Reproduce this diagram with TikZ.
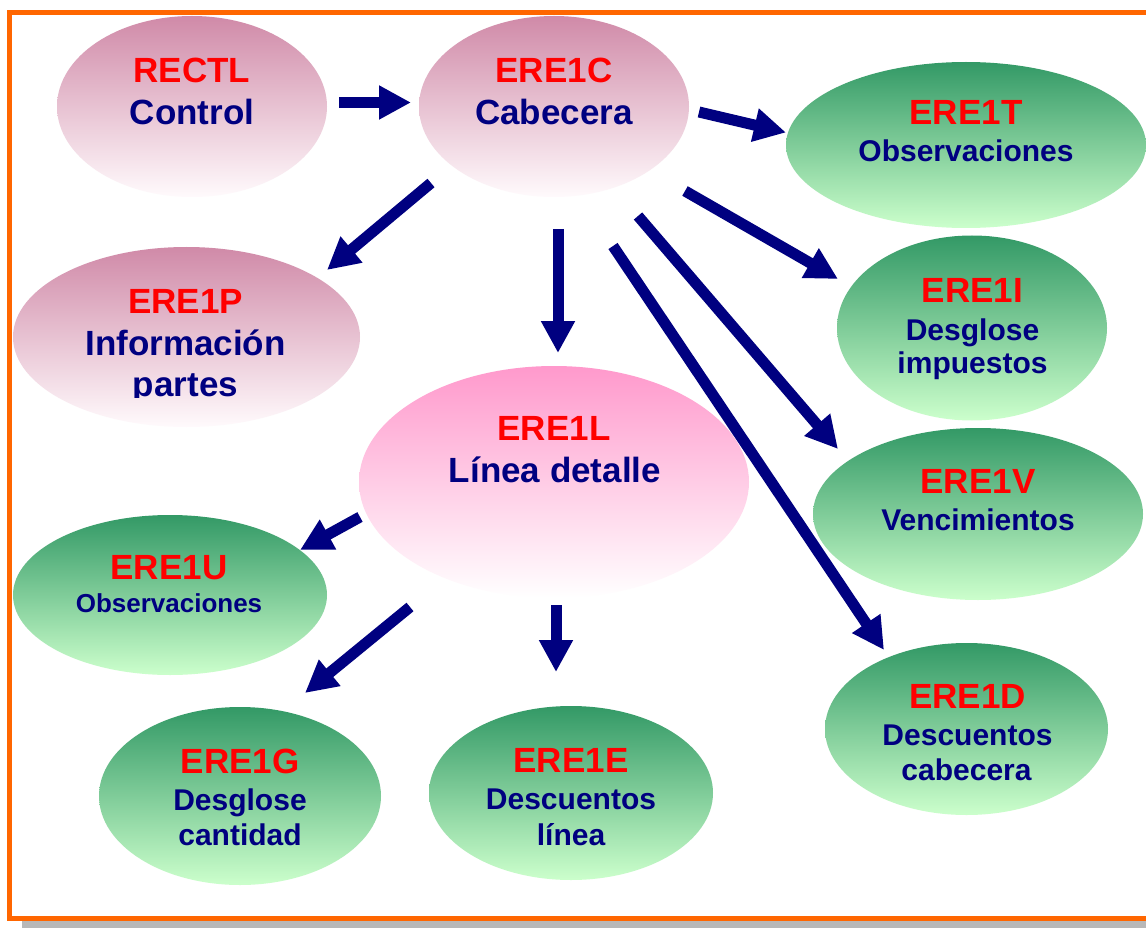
\documentclass[tikz,border=0pt]{standalone}
\usepackage{fontspec}
\setmainfont{Liberation Sans}
\usetikzlibrary{shapes.geometric,arrows.meta}
\definecolor{frameorange}{HTML}{FF6600}
\definecolor{shadowgray}{HTML}{B8B8B8}
\definecolor{pinktop}{HTML}{D08AA8}
\definecolor{pinkbot}{HTML}{FFFAFC}
\definecolor{rosetop}{HTML}{FF99CC}
\definecolor{rosebot}{HTML}{FFFFFF}
\definecolor{greentop}{HTML}{339966}
\definecolor{greenbot}{HTML}{CCFFCC}
\definecolor{titlered}{HTML}{FF0000}
\definecolor{navyblue}{HTML}{000080}
\begin{document}
\begin{tikzpicture}[x=1pt,y=-1pt,
  pinkell/.style={ellipse, draw=none, inner sep=0pt, top color=pinktop, bottom color=pinkbot},
  roseell/.style={ellipse, draw=none, inner sep=0pt, top color=rosetop, bottom color=rosebot},
  greenell/.style={ellipse, draw=none, inner sep=0pt, top color=greentop, bottom color=greenbot},
  ttl/.style={anchor=base, inner sep=0pt, text=titlered, font=\fontsize{35}{42}\selectfont\bfseries},
  lbig/.style={anchor=base, inner sep=0pt, text=navyblue, font=\fontsize{35}{42}\selectfont\bfseries},
  lmid/.style={anchor=base, inner sep=0pt, text=navyblue, font=\fontsize{30}{36}\selectfont\bfseries},
  lsmall/.style={anchor=base, inner sep=0pt, text=navyblue, font=\fontsize{26}{31}\selectfont\bfseries},
  blk/.style={draw=navyblue, line width=11pt, -{Triangle[width=32pt,length=32pt]}}
]
\useasboundingbox (0,0) rectangle (1146,928);
\clip (0,0) rectangle (1146,928);
% frame with shadow
\fill[shadowgray] (22,25) rectangle (1170,935);
\draw[frameorange, line width=5pt, fill=white] (9.5,12.5) rectangle (1160,918.5);

% ellipses
\node[pinkell, minimum width=270pt, minimum height=181pt] (rectl) at (192,106.5) {};
\node[pinkell, minimum width=270pt, minimum height=181pt] (ere1c) at (554,106.5) {};
\node[greenell, minimum width=360pt, minimum height=166pt] (ere1t) at (966,145) {};
\node[pinkell, minimum width=347pt, minimum height=180pt] (ere1p) at (186.5,337) {};
\node[greenell, minimum width=270pt, minimum height=185pt] (ere1i) at (972,328) {};
\node[roseell, minimum width=390pt, minimum height=232pt] (ere1l) at (554,482) {};
\node[greenell, minimum width=330pt, minimum height=172pt] (ere1v) at (978,514) {};
\node[greenell, minimum width=314pt, minimum height=160pt] (ere1u) at (170,595) {};
\node[greenell, minimum width=282pt, minimum height=178pt] (ere1g) at (240,796) {};
\node[greenell, minimum width=284pt, minimum height=174pt] (ere1e) at (571,793) {};
\node[greenell, minimum width=283pt, minimum height=172pt] (ere1d) at (966.5,729) {};

% texts
\node[ttl] (rectl-a) at (192,83) {RECTL};
\node[lbig] (rectl-b) at (192,125) {Control};
\node[ttl] (ere1c-a) at (554,83) {ERE1C};
\node[lbig] (ere1c-b) at (554,125) {Cabecera};
\node[ttl] (ere1t-a) at (966,125) {ERE1T};
\node[lmid] (ere1t-b) at (966,162) {Observaciones};
\node[ttl] (ere1p-a) at (185.5,313) {ERE1P};
\node[lbig] (ere1p-b) at (185.5,355) {Información};
\begin{scope}
  \clip (0,0) rectangle (1146,397.5);
  \node[lbig] (ere1p-c) at (185.5,396) {partes};
\end{scope}
\node[ttl] (ere1i-a) at (972.5,302) {ERE1I};
\node[lmid] (ere1i-b) at (972.5,340) {Desglose};
\node[lmid] (ere1i-c) at (972.5,373) {impuestos};
\node[ttl] (ere1l-a) at (554,440) {ERE1L};
\node[lbig] (ere1l-b) at (555,482) {Línea detalle};
\node[ttl] (ere1v-a) at (978,493) {ERE1V};
\node[lmid] (ere1v-b) at (978,530) {Vencimientos};
\node[ttl] (ere1u-a) at (169,579) {ERE1U};
\node[lsmall] (ere1u-b) at (169,612) {Observaciones};
\node[ttl] (ere1g-a) at (240,773) {ERE1G};
\node[lmid] (ere1g-b) at (240,810) {Desglose};
\node[lmid] (ere1g-c) at (240,845) {cantidad};
\node[ttl] (ere1e-a) at (571,772) {ERE1E};
\node[lmid] (ere1e-b) at (571,809) {Descuentos};
\node[lmid] (ere1e-c) at (571,845) {línea};
\node[ttl] (ere1d-a) at (967.5,708) {ERE1D};
\node[lmid] (ere1d-b) at (967.5,745) {Descuentos};
\node[lmid] (ere1d-c) at (966.5,780) {cabecera};

% arrow end points
\coordinate (rectl-out) at (339,102.5);
\coordinate (ere1c-in)  at (411,102.5);
\coordinate (ere1c-o1) at (699,112);
\coordinate (ere1t-in) at (786,132.5);
\coordinate (ere1c-o2) at (431,183);
\coordinate (ere1p-in) at (327,270);
\coordinate (ere1c-o3) at (558,229);
\coordinate (ere1l-in) at (558,353);
\coordinate (ere1c-o4) at (685,191);
\coordinate (ere1i-in) at (838,279);
\coordinate (ere1c-o5) at (638,216);
\coordinate (ere1v-in) at (838,449);
\coordinate (ere1c-o6) at (613,246);
\coordinate (ere1d-in) at (884,650);
\coordinate (ere1l-o1) at (360,517);
\coordinate (ere1u-in) at (300,550);
\coordinate (ere1l-o2) at (410,607);
\coordinate (ere1g-in) at (305,693);
\coordinate (ere1l-o3) at (556,605);
\coordinate (ere1e-in) at (556,672);

% arrows
\draw[blk] (rectl-out) -- (ere1c-in);
\draw[blk] (ere1c-o1) -- (ere1t-in);
\draw[blk] (ere1c-o2) -- (ere1p-in);
\draw[blk] (ere1c-o3) -- (ere1l-in);
\draw[blk] (ere1c-o4) -- (ere1i-in);
\draw[blk] (ere1c-o5) -- (ere1v-in);
\draw[blk] (ere1c-o6) -- (ere1d-in);
\draw[blk] (ere1l-o1) -- (ere1u-in);
\draw[blk] (ere1l-o2) -- (ere1g-in);
\draw[blk] (ere1l-o3) -- (ere1e-in);
\end{tikzpicture}
\end{document}
